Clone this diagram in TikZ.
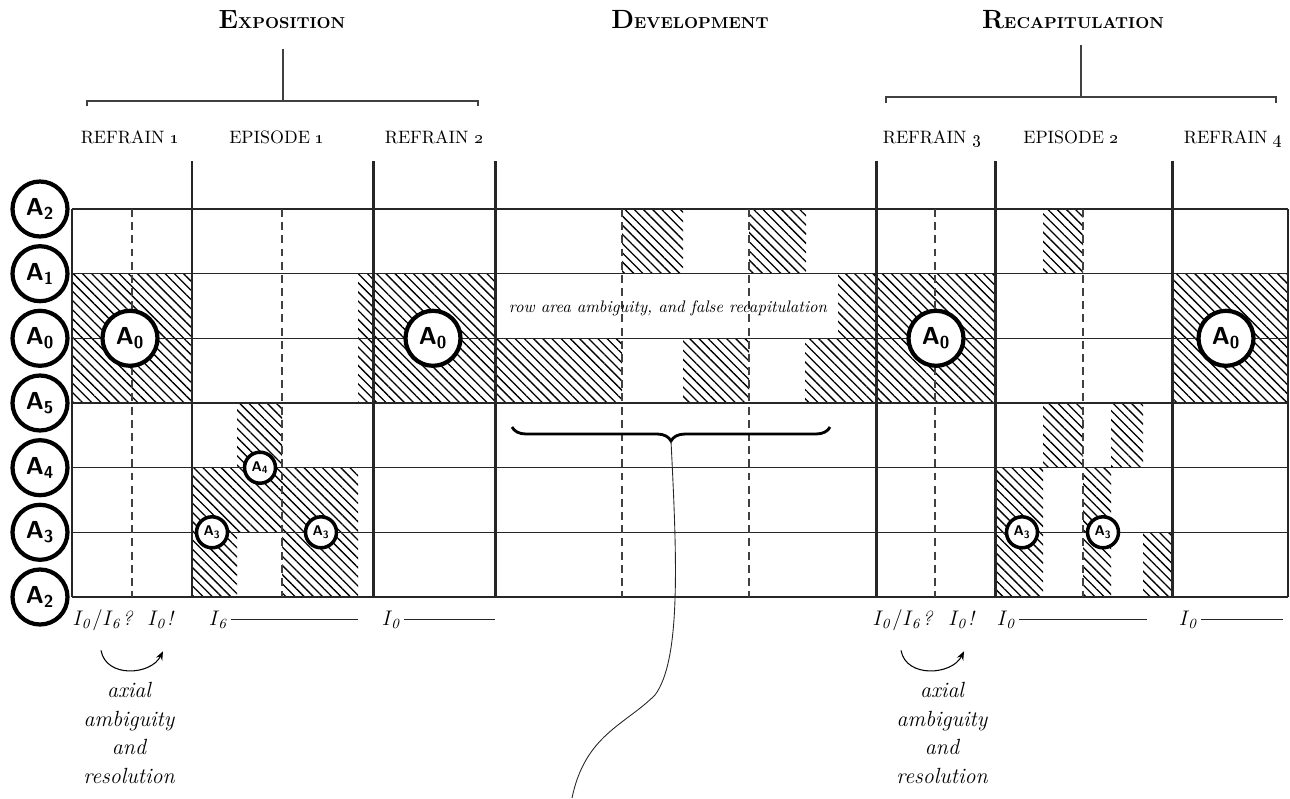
\documentclass[tikz,border=0pt]{standalone}
\usetikzlibrary{arrows.meta,calc,patterns.meta,decorations.pathreplacing}

\newcommand{\hdr}[2]{{\fontsize{15}{15}\selectfont #1}{\fontsize{9}{10}\selectfont #2}}
\newcommand{\Iv}[1]{I_{\mathit{#1}}}

\begin{document}
\begin{tikzpicture}[
  x=0.02cm, y=-0.02cm,
  >=Stealth,
  gridln/.style={line width=0.8pt, black!85},
  edgeln/.style={line width=1.1pt, black!85},
  sect/.style={line width=1.7pt, black!85},
  subdiv/.style={line width=0.7pt, black!75, dash pattern=on 4.5pt off 3pt},
  hatch/.style={pattern={Lines[angle=-45,distance=3.7pt,line width=0.75pt]}},
  keyc/.style={circle, draw, line width=2.4pt, fill=white, minimum size=1.1cm, inner sep=0pt,
    font=\fontsize{14}{14}\selectfont\sffamily\bfseries},
  keys/.style={circle, draw, line width=2pt, fill=white, minimum size=0.62cm, inner sep=0pt,
    font=\fontsize{8}{8}\selectfont\sffamily\bfseries},
  sectlbl/.style={anchor=base, font=\bfseries},
  partlbl/.style={anchor=base, font=\fontsize{10.2}{11}\selectfont},
  ilbl/.style={anchor=base, inner sep=1pt, font=\fontsize{11.5}{12}\selectfont},
  durln/.style={line width=0.6pt, black!85},
  brk/.style={line width=0.7pt, black!75},
  note/.style={align=center, font=\fontsize{12.5}{16.4}\selectfont\itshape},
  rowtxt/.style={anchor=base, font=\fontsize{9.5}{11}\selectfont\itshape},
  bendarr/.style={-{Stealth[length=5pt,width=4pt]}, line width=0.6pt},
  brc/.style={line width=1.6pt, decorate, decoration={brace, amplitude=0.28cm}},
  tail/.style={line width=0.5pt, black!85},
]
  \useasboundingbox (0,0) rectangle (1290,798);

  \foreach \xa/\ya/\xb/\yb in {72/273.7/192/403, 237/403/282/467.7, 192/467.7/358/532.3,
      192/532.3/237/597, 282/532.3/358/597, 358/273.7/495/403,
      622/209/683/273.7, 749/209/806/273.7, 838/273.7/876/338.3,
      495/338.3/622/403, 683/338.3/749/403, 805/338.3/876/403,
      876/273.7/995/403, 1043/209/1083/273.7, 1043/403/1083/467.7,
      1111/403/1143/467.7, 995/467.7/1043/597, 1083/467.7/1111/597,
      1143/532.3/1172/597, 1172/273.7/1288/403}
    \path[hatch] (\xa,\ya) rectangle (\xb,\yb);

  \foreach \yy in {209,273.7,338.3,403,467.7,532.3}
    \draw[gridln] (72,\yy) -- (1288,\yy);
  \draw[edgeln] (72,597) -- (1288,597);
  \draw[edgeln] (72,209) -- (72,597);
  \draw[edgeln] (1288,209) -- (1288,597);
  \foreach \xx in {132,282,622,749,935,1083}
    \draw[subdiv] (\xx,209) -- (\xx,597);
  \foreach \xx in {192,373,495,876,995,1172}
    \draw[sect] (\xx,161) -- (\xx,597);

  \foreach \nm/\yy/\k in {kTwo/209/2, kOne/273.7/1, kZero/338.3/0, kFive/403/5,
      kFour/467.7/4, kThree/532.3/3, kTwoLow/597/2}
    \node[keyc] (\nm) at (40,\yy) {A\textsubscript{\k}};

  \node[keyc] (zeroA) at (130,338.3) {A\textsubscript{0}};
  \node[keyc] (zeroB) at (433,338.3) {A\textsubscript{0}};
  \node[keyc] (zeroC) at (936,338.3) {A\textsubscript{0}};
  \node[keyc] (zeroD) at (1226,338.3) {A\textsubscript{0}};
  \node[keys] (fourA) at (260,467.7) {A\textsubscript{4}};
  \node[keys] (threeA) at (212,532.3) {A\textsubscript{3}};
  \node[keys] (threeB) at (321,532.3) {A\textsubscript{3}};
  \node[keys] (threeC) at (1022,532.3) {A\textsubscript{3}};
  \node[keys] (threeD) at (1103,532.3) {A\textsubscript{3}};

  \node[sectlbl] (expo) at (282,28) {\hdr{E}{XPOSITION}};
  \node[sectlbl] (devel) at (690,28) {\hdr{D}{EVELOPMENT}};
  \node[sectlbl] (recap) at (1073,28) {\hdr{R}{ECAPITULATION}};
  \coordinate (expoTop) at (283,49);
  \coordinate (expoBar) at (283,101);
  \coordinate (recapTop) at (1081,45);
  \coordinate (recapBar) at (1081,97);
  \draw[brk] (expoTop) -- (expoBar);
  \draw[brk] (87,106) -- (87,101) -- (478,101) -- (478,106);
  \draw[brk] (recapTop) -- (recapBar);
  \draw[brk] (886,103) -- (886,97) -- (1276,97) -- (1276,103);

  \node[partlbl] (refOne) at (130,143) {REFRAIN \oldstylenums{1}};
  \node[partlbl] (epiOne) at (277,143) {EPISODE \oldstylenums{1}};
  \node[partlbl] (refTwo) at (434,143) {REFRAIN \oldstylenums{2}};
  \node[partlbl] (refThree) at (932,143) {REFRAIN \oldstylenums{3}};
  \node[partlbl] (epiTwo) at (1071,143) {EPISODE \oldstylenums{2}};
  \node[partlbl] (refFour) at (1233,143) {REFRAIN \oldstylenums{4}};

  \node[rowtxt] (rowamb) at (668,312) {row area ambiguity, and false recapitulation};

  \node[ilbl] (ambL) at (103,625) {$\Iv{0}/\Iv{6}$\textit{?}};
  \node[ilbl] (resL) at (161,625) {$\Iv{0}$\textit{!}};
  \node[ilbl] (sixL) at (219,625) {$\Iv{6}$};
  \node[ilbl] (zeroL) at (392,625) {$\Iv{0}$};
  \node[ilbl] (ambR) at (903,625) {$\Iv{0}/\Iv{6}$\textit{?}};
  \node[ilbl] (resR) at (962,625) {$\Iv{0}$\textit{!}};
  \node[ilbl] (zeroR) at (1007,625) {$\Iv{0}$};
  \node[ilbl] (lastR) at (1189,625) {$\Iv{0}$};
  \coordinate (sixEnd) at (358,621);
  \coordinate (zeroLEnd) at (495,621);
  \coordinate (zeroREnd) at (1147,621);
  \coordinate (lastREnd) at (1283,621);
  \draw[durln] (sixL.east) -- (sixL.east -| sixEnd);
  \draw[durln] (zeroL.east) -- (zeroL.east -| zeroLEnd);
  \draw[durln] (zeroR.east) -- (zeroR.east -| zeroREnd);
  \draw[durln] (lastR.east) -- (lastR.east -| lastREnd);

  \draw[bendarr] ($(ambL.south)+(-2,18)$) .. controls +(5,28) and +(-12,24) .. ($(resL.south)+(2,21)$);
  \draw[bendarr] ($(ambR.south)+(-2,18)$) .. controls +(5,28) and +(-12,24) .. ($(resR.south)+(2,21)$);

  \node[note] (axL) at (129,733) {axial\\ambiguity\\and\\resolution};
  \node[note] (axR) at (942,733) {axial\\ambiguity\\and\\resolution};

  \coordinate (braceL) at (512,427);
  \coordinate (braceR) at (830,427);
  \coordinate (braceTip) at (671,441);
  \coordinate (tailMid) at (655,695);
  \coordinate (tailEnd) at (572,798);
  \draw[brc] (braceR) -- (braceL);
  \draw[tail] (braceTip) .. controls (677,560) and (681,660) .. (tailMid)
    .. controls (625,725) and (585,735) .. (tailEnd);
\end{tikzpicture}
\end{document}
